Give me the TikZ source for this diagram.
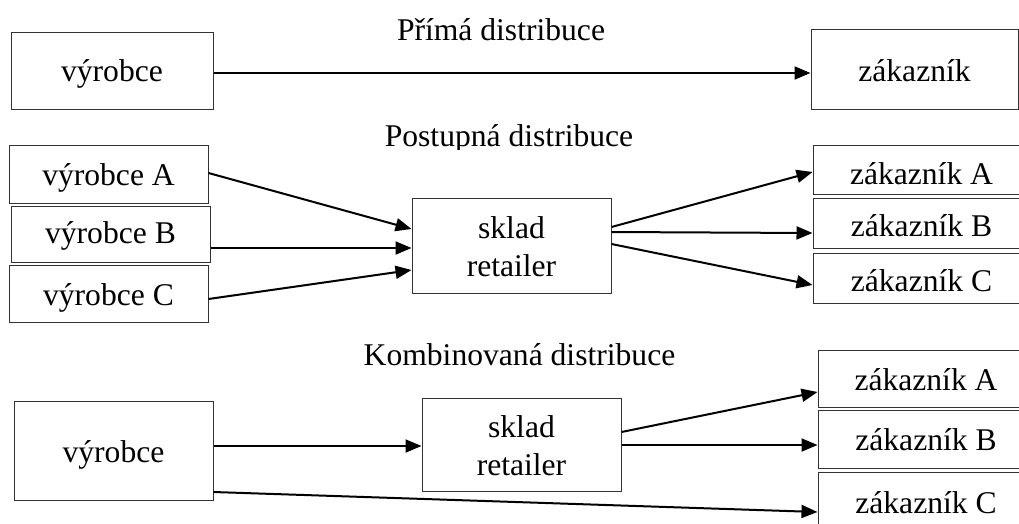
\documentclass[tikz,border=0pt]{standalone}
\usepackage{fontspec}
\setmainfont{Liberation Serif}
\usetikzlibrary{arrows.meta}

\tikzset{
  box/.style={draw=black!80, line width=1pt, inner sep=0pt,
              font=\fontsize{31.6}{38}\selectfont},
  % baseline sits half of #1 below the box centre
  bl/.style={text height=#1, text depth=0pt},
  % two stacked lines, first baseline 7.5pt above the box centre
  twoline/.style={text height=0pt, text depth=15pt},
  title/.style={inner sep=0pt, anchor=base, font=\fontsize{31.6}{38}\selectfont},
  flow/.style={line width=2pt, -{Triangle[length=16pt,width=13pt]}},
}
\newcommand{\stacklines}[2]{\begin{tabular}[t]{@{}c@{}}#1\\#2\end{tabular}}

\begin{document}
\begin{tikzpicture}[x=1pt, y=-1pt]
  \useasboundingbox (0,0) rectangle (1019,523);

  % --- direct distribution ---
  \node[title] (t1) at (501,40) {Přímá distribuce};
  \node[box, bl=22pt, minimum width=202pt, minimum height=77pt] (p1v) at (112,70.5) {výrobce};
  \node[box, bl=24pt, minimum width=207pt, minimum height=80pt] (p1z) at (914.5,69) {zákazník};
  \draw[flow] ([yshift=-2.5pt]p1v.east) -- ([yshift=-4pt]p1z.west);

  % --- staged distribution ---
  \begin{scope}
    \clip (300,100) rectangle (720,149.5);
    \node[title] (t2) at (509,146) {Postupná distribuce};
  \end{scope}
  \node[box, bl=22pt, minimum width=199pt, minimum height=58pt] (vA) at (108.5,174) {výrobce A};
  \node[box, bl=18pt, minimum width=199pt, minimum height=56pt] (vB) at (110.5,234) {výrobce B};
  \node[box, bl=23pt, minimum width=199pt, minimum height=57pt] (vC) at (108.5,293.5) {výrobce C};
  \node[box, twoline, minimum width=199pt, minimum height=95pt] (s2) at (511.5,245.5) {\stacklines{sklad}{retailer}};
  \node[box, bl=29pt, minimum width=217pt, minimum height=49pt] (zA) at (921.5,169.5) {zákazník A};
  \node[box, bl=26pt, minimum width=217pt, minimum height=50pt] (zB) at (921.5,223) {zákazník B};
  \node[box, bl=26pt, minimum width=217pt, minimum height=50pt] (zC) at (921.5,278) {zákazník C};

  \draw[flow] ([yshift=1pt]vA.east) -- ([yshift=16.5pt]s2.west);
  \draw[flow] ([yshift=-14pt]vB.east) -- ([yshift=-2.5pt]s2.west);
  \draw[flow] ([yshift=-5.5pt]vC.east) -- ([yshift=-24.5pt]s2.west);
  \draw[flow] ([yshift=18.5pt]s2.east) -- ([yshift=-2.5pt]zA.west);
  \draw[flow] ([yshift=13.5pt]s2.east) -- ([yshift=-10pt]zB.west);
  \draw[flow] ([yshift=1.5pt]s2.east) -- ([yshift=-7pt]zC.west);

  % --- combined distribution ---
  \node[title] (t3) at (519.5,365) {Kombinovaná distribuce};
  \node[box, bl=24pt, minimum width=199pt, minimum height=99pt] (v3) at (113.5,450.5) {výrobce};
  \node[box, twoline, minimum width=199pt, minimum height=93pt] (s3) at (521.5,444.5) {\stacklines{sklad}{retailer}};
  \node[box, bl=23pt, minimum width=216pt, minimum height=57pt] (kA) at (926,378.5) {zákazník A};
  \node[box, bl=22pt, minimum width=216pt, minimum height=58pt] (kB) at (926,439) {zákazník B};
  \node[box, bl=26pt, minimum width=216pt, minimum height=56pt] (kC) at (926,500) {zákazník C};

  \draw[flow] ([yshift=4.5pt]v3.east) -- ([yshift=-1.5pt]s3.west);
  \draw[flow] ([yshift=-41.5pt]v3.east) -- ([yshift=-12pt]kC.west);
  \draw[flow] ([yshift=12.5pt]s3.east) -- ([yshift=-13.5pt]kA.west);
  \draw[flow] ([yshift=-0.5pt]s3.east) -- ([yshift=-6pt]kB.west);
\end{tikzpicture}
\end{document}
